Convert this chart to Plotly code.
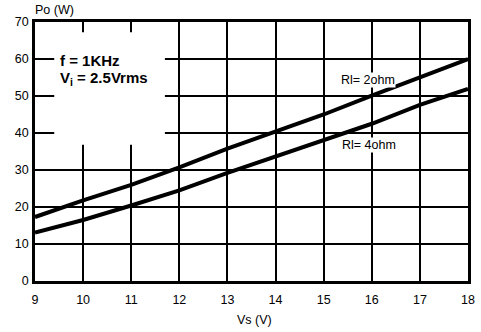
import plotly.graph_objects as go

vs = [9, 10, 11, 12, 13, 14, 15, 16, 17, 18]
po_2ohm = [17.3, 21.8, 26.0, 30.7, 35.8, 40.4, 45.0, 50.1, 55.1, 60.0]
po_4ohm = [13.1, 16.5, 20.4, 24.5, 29.2, 33.6, 38.2, 42.5, 47.6, 51.9]
x_ticks = list(range(9, 19))
y_ticks = list(range(0, 71, 10))

FONT = "Liberation Sans, Arial, sans-serif"

fig = go.Figure()
for y in (po_2ohm, po_4ohm):
    fig.add_trace(go.Scatter(x=vs, y=y, mode="lines",
                             line=dict(color="black", width=4),
                             showlegend=False, hoverinfo="skip"))

axis_common = dict(showgrid=True, gridcolor="black", gridwidth=2,
                   showline=True, linecolor="black", linewidth=2.5, mirror=True,
                   zeroline=False, ticks="", automargin=False,
                   tickfont=dict(family=FONT, size=12.5, color="black"))

fig.update_xaxes(range=[9, 18], tickvals=x_ticks, ticklabelstandoff=5, **axis_common)
fig.update_yaxes(range=[0, 70], tickvals=y_ticks, ticklabelstandoff=1, **axis_common)

# white box hiding the grid behind the conditions text
fig.add_shape(type="rect", xref="x", yref="y", x0=9.4, x1=11.7, y0=36.8, y1=67.2,
              fillcolor="white", line=dict(width=0), layer="above")

fig.add_annotation(x=9.47, y=59.6, xref="x", yref="y", xanchor="left", yanchor="middle",
                   text="<b>f = 1KHz</b>", showarrow=False,
                   font=dict(family=FONT, size=15, color="black"))
fig.add_annotation(x=9.47, y=54.7, xref="x", yref="y", xanchor="left", yanchor="middle",
                   text="<b>V<sub>i</sub> = 2.5Vrms</b>", showarrow=False,
                   font=dict(family=FONT, size=15, color="black"))

fig.add_annotation(x=15.33, y=54.2, xref="x", yref="y", xanchor="left", yanchor="middle",
                   text="Rl= 2ohm", showarrow=False, bgcolor="white", borderpad=0,
                   font=dict(family=FONT, size=12.5, color="black"))
fig.add_annotation(x=15.37, y=36.7, xref="x", yref="y", xanchor="left", yanchor="middle",
                   text="Rl= 4ohm", showarrow=False, bgcolor="white", borderpad=0,
                   font=dict(family=FONT, size=12.5, color="black"))

fig.add_annotation(x=0.0, y=1.0, xref="paper", yref="paper", xanchor="left", yanchor="bottom",
                   xshift=-2, yshift=3,
                   text="Po (W)", showarrow=False,
                   font=dict(family=FONT, size=12.5, color="black"))
fig.add_annotation(x=13.57, y=0, xref="x", yref="paper", xanchor="center", yanchor="top",
                   yshift=-30,
                   text="Vs (V)", showarrow=False,
                   font=dict(family=FONT, size=12.5, color="black"))

fig.update_layout(width=481, height=332,
                  margin=dict(l=35, r=13, t=22, b=51, autoexpand=False),
                  paper_bgcolor="white", plot_bgcolor="white", hovermode=False)

fig.write_html("out.html", config={"displayModeBar": False},
               post_script="document.body.style.margin='0';document.body.style.overflow='hidden';")
